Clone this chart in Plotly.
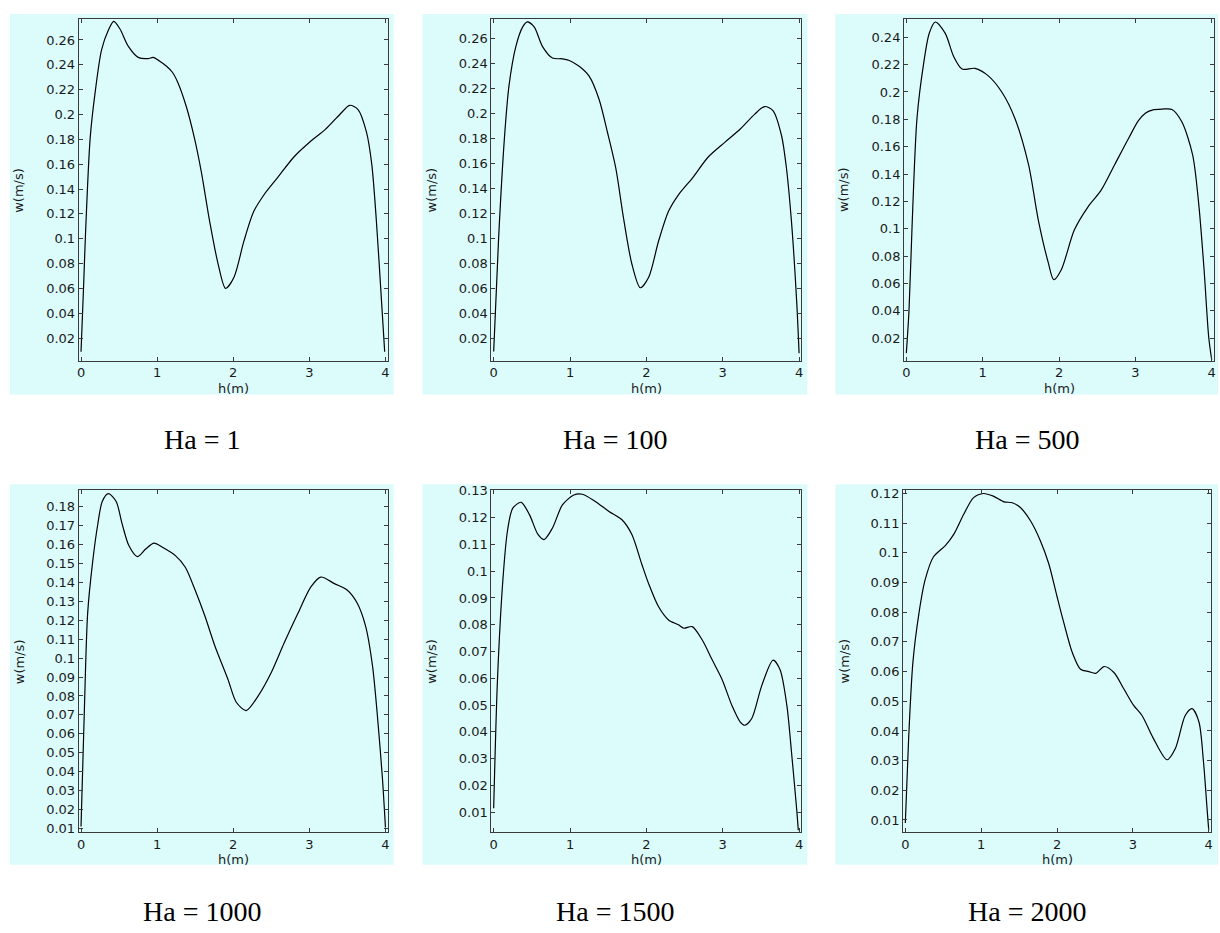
import plotly.graph_objects as go

W, H = 1220, 933

# ---------------- data ----------------
ha_labels = ["Ha = 1", "Ha = 100", "Ha = 500", "Ha = 1000", "Ha = 1500", "Ha = 2000"]
x_title = "h(m)"
y_title = "w(m/s)"
x_ticks = [0, 1, 2, 3, 4]
x_tick_text = ["0", "1", "2", "3", "4"]

h_ha1 = [0, 0.035, 0.057, 0.12, 0.19, 0.27, 0.36, 0.43, 0.51, 0.62, 0.75, 0.88, 0.95, 1.03,
         1.12, 1.2, 1.27, 1.38, 1.49, 1.58, 1.69, 1.80, 1.90, 2.01, 2.14, 2.27, 2.40, 2.58,
         2.80, 3.01, 3.21, 3.40, 3.53, 3.64, 3.75, 3.82, 3.88, 3.95, 3.99]
w_ha1 = [0.009, 0.064, 0.101, 0.181, 0.22, 0.252, 0.268, 0.275, 0.269, 0.255, 0.246, 0.245,
         0.246, 0.243, 0.239, 0.234, 0.226, 0.207, 0.181, 0.154, 0.114, 0.08, 0.06, 0.069,
         0.098, 0.122, 0.135, 0.149, 0.166, 0.178, 0.188, 0.2, 0.2074, 0.204, 0.186, 0.16,
         0.115, 0.048, 0.009]

h_ha100 = [0, 0.065, 0.14, 0.2, 0.29, 0.38, 0.44, 0.53, 0.64, 0.77, 0.9, 0.99, 1.12, 1.25,
           1.38, 1.49, 1.6, 1.7, 1.81, 1.92, 2.03, 2.16, 2.29, 2.42, 2.6, 2.81, 3.03, 3.23,
           3.42, 3.55, 3.66, 3.77, 3.83, 3.9, 3.97, 4.0]
w_ha100 = [0.0093, 0.1004, 0.1795, 0.2217, 0.2534, 0.2692, 0.2732, 0.2692, 0.2534, 0.2442,
           0.2436, 0.2423, 0.2376, 0.2297, 0.2112, 0.1848, 0.1558, 0.1162, 0.0793, 0.0603,
           0.0687, 0.0977, 0.1215, 0.1347, 0.1479, 0.165, 0.1769, 0.1874, 0.1993, 0.2054,
           0.202, 0.1822, 0.1584, 0.1136, 0.0476, 0.0078]

h_ha500 = [0, 0.035, 0.078, 0.14, 0.23, 0.30, 0.38, 0.51, 0.62, 0.73, 0.9, 1.07, 1.25, 1.42,
           1.6, 1.73, 1.86, 1.93, 2.03, 2.2, 2.38, 2.55, 2.73, 2.91, 3.04, 3.13, 3.22, 3.35,
           3.48, 3.61, 3.75, 3.83, 3.9, 3.96, 4.0]
w_ha500 = [0.009, 0.04, 0.106, 0.181, 0.222, 0.243, 0.2512, 0.2429, 0.226, 0.2168, 0.2173,
           0.212, 0.2, 0.181, 0.147, 0.106, 0.075, 0.0627, 0.07, 0.099, 0.116, 0.128, 0.147,
           0.166, 0.179, 0.1845, 0.1868, 0.1875, 0.1872, 0.178, 0.154, 0.118, 0.07, 0.021,
           0.004]

h_ha1000 = [0, 0.043, 0.087, 0.15, 0.22, 0.28, 0.36, 0.46, 0.54, 0.63, 0.74, 0.85, 0.96,
            1.07, 1.24, 1.37, 1.5, 1.63, 1.76, 1.93, 2.04, 2.17, 2.33, 2.5, 2.67, 2.85, 3.02,
            3.15, 3.33, 3.5, 3.63, 3.74, 3.83, 3.89, 3.96, 4.0]
w_ha1000 = [0.011, 0.0715, 0.1237, 0.15, 0.1708, 0.183, 0.187, 0.183, 0.171, 0.1594, 0.1537,
            0.1577, 0.1608, 0.1586, 0.1542, 0.1481, 0.1359, 0.122, 0.1063, 0.0889, 0.0767,
            0.0723, 0.0802, 0.0924, 0.1081, 0.1237, 0.1377, 0.1429, 0.1394, 0.1359, 0.129,
            0.1168, 0.0959, 0.0715, 0.0366, 0.0105]

h_ha1500 = [0, 0.05, 0.12, 0.18, 0.25, 0.36, 0.47, 0.58, 0.66, 0.77, 0.9, 1.05, 1.16, 1.33,
            1.51, 1.68, 1.81, 1.94, 2.03, 2.16, 2.29, 2.42, 2.49, 2.6, 2.73, 2.86, 2.99, 3.12,
            3.23, 3.29, 3.38, 3.51, 3.66, 3.75, 3.84, 3.9, 3.97, 3.99]
w_ha1500 = [0.0115, 0.0597, 0.0965, 0.1149, 0.1235, 0.1257, 0.121, 0.1137, 0.1118, 0.1161,
            0.1247, 0.1284, 0.1287, 0.126, 0.1223, 0.1192, 0.1137, 0.1026, 0.0953, 0.0867,
            0.0818, 0.08, 0.0787, 0.0793, 0.0744, 0.067, 0.0597, 0.0499, 0.0437, 0.0425,
            0.045, 0.0572, 0.0668, 0.0633, 0.0499, 0.0327, 0.0107, 0.0033]

h_ha2000 = [0, 0.044, 0.1, 0.18, 0.26, 0.37, 0.53, 0.64, 0.77, 0.9, 1.03, 1.16, 1.3, 1.41,
            1.52, 1.65, 1.78, 1.89, 2.0, 2.09, 2.2, 2.31, 2.42, 2.51, 2.62, 2.75, 2.88, 3.01,
            3.12, 3.27, 3.45, 3.56, 3.69, 3.78, 3.87, 3.93, 3.98, 4.0]
w_ha2000 = [0.009, 0.0375, 0.0631, 0.0797, 0.0908, 0.0986, 0.1025, 0.1063, 0.113, 0.1186,
            0.12, 0.1191, 0.1172, 0.1169, 0.1152, 0.1108, 0.1041, 0.0964, 0.0853, 0.0764,
            0.0665, 0.0608, 0.06, 0.0594, 0.0617, 0.0597, 0.0542, 0.0486, 0.0452, 0.0375,
            0.0303, 0.0341, 0.0452, 0.0475, 0.0431, 0.0298, 0.0131, 0.0065]

y_ticks_top12 = [0.02, 0.04, 0.06, 0.08, 0.1, 0.12, 0.14, 0.16, 0.18, 0.2, 0.22, 0.24, 0.26]
y_text_top12 = ["0.02", "0.04", "0.06", "0.08", "0.1", "0.12", "0.14", "0.16", "0.18", "0.2",
                "0.22", "0.24", "0.26"]
y_ticks_top3 = y_ticks_top12[:-1]
y_text_top3 = y_text_top12[:-1]
y_ticks_b1 = [0.01, 0.02, 0.03, 0.04, 0.05, 0.06, 0.07, 0.08, 0.09, 0.1, 0.11, 0.12, 0.13,
              0.14, 0.15, 0.16, 0.17, 0.18]
y_text_b1 = ["0.01", "0.02", "0.03", "0.04", "0.05", "0.06", "0.07", "0.08", "0.09", "0.1",
             "0.11", "0.12", "0.13", "0.14", "0.15", "0.16", "0.17", "0.18"]
y_ticks_b2 = y_ticks_b1[:13]
y_text_b2 = y_text_b1[:13]
y_ticks_b3 = y_ticks_b1[:12]
y_text_b3 = y_text_b1[:12]

# ---------------- layout helpers ----------------
panels = [
    (h_ha1, w_ha1, [0.0017, 0.277], y_ticks_top12, y_text_top12),
    (h_ha100, w_ha100, [0.0018, 0.2756], y_ticks_top12, y_text_top12),
    (h_ha500, w_ha500, [0.0034, 0.2535], y_ticks_top3, y_text_top3),
    (h_ha1000, w_ha1000, [0.008, 0.1888], y_ticks_b1, y_text_b1),
    (h_ha1500, w_ha1500, [0.0026, 0.1302], y_ticks_b2, y_text_b2),
    (h_ha2000, w_ha2000, [0.0059, 0.1211], y_ticks_b3, y_text_b3),
]
box_x = [(77, 387), (491, 802), (905, 1216), (77, 387), (491, 802), (904, 1213)]
box_y = [(12, 358)] * 3 + [(489, 835)] * 3
cyan_x = [(8, 393), (422, 808), (836, 1220)]
cyan_y = [(7, 392), (483, 868)]
label_y = [438, 915]
x_range = [-0.03, 4.03]

CYAN = "#dcfcfc"
AX = "#3a3a3a"
TXT = "#1a1a1a"
tickfont = dict(family="DejaVu Sans", size=13, color=TXT)


def px(x):
    return x / W


def py(y):
    return 1 - y / H


fig = go.Figure()
layout = dict(width=W, height=H, margin=dict(l=0, r=0, t=0, b=0),
              paper_bgcolor="white", plot_bgcolor=CYAN, showlegend=False)
shapes = []
annotations = []

for r in range(2):
    for c in range(3):
        shapes.append(dict(type="rect", xref="paper", yref="paper", layer="below",
                           x0=px(cyan_x[c][0]), x1=px(cyan_x[c][1]),
                           y0=py(cyan_y[r][1]), y1=py(cyan_y[r][0]),
                           fillcolor=CYAN, line=dict(width=0)))
        annotations.append(dict(text=ha_labels[r * 3 + c], xref="paper", yref="paper",
                                x=px((cyan_x[c][0] + cyan_x[c][1]) / 2), y=py(label_y[r]),
                                xanchor="center", yanchor="middle", showarrow=False,
                                font=dict(family="Liberation Serif", size=28, color="black")))

for i, (hh, ww, yr, yt, ytt) in enumerate(panels):
    n = "" if i == 0 else str(i + 1)
    fig.add_trace(go.Scatter(x=hh, y=ww, mode="lines", xaxis="x" + n, yaxis="y" + n,
                             line=dict(color="black", width=1.2, shape="spline", smoothing=0.8),
                             hoverinfo="skip"))
    bx, by = box_x[i], box_y[i]
    layout["xaxis" + n] = dict(domain=[px(bx[0]), px(bx[1])], anchor="y" + n, range=x_range,
                               tickvals=x_ticks, ticktext=x_tick_text, ticks="inside",
                               ticklen=4, tickcolor=AX, mirror="allticks", showline=True,
                               linecolor=AX, linewidth=1, showgrid=False, zeroline=False,
                               tickfont=tickfont)
    layout["yaxis" + n] = dict(domain=[py(by[1]), py(by[0])], anchor="x" + n, range=yr,
                               tickvals=yt, ticktext=ytt, ticks="inside", ticklen=4,
                               tickcolor=AX, mirror="allticks", showline=True, linecolor=AX,
                               linewidth=1, showgrid=False, zeroline=False, tickfont=tickfont)
    annotations.append(dict(text=x_title, xref="x" + n, yref="paper", x=2,
                            y=py(by[1] + 28), xanchor="center", yanchor="middle",
                            showarrow=False, font=tickfont))
    annotations.append(dict(text=y_title, xref="paper", yref="paper",
                            x=px(cyan_x[i % 3][0] + 9), y=py((by[0] + by[1]) / 2),
                            xanchor="center", yanchor="middle", textangle=-90,
                            showarrow=False, font=tickfont))

layout["shapes"] = shapes
layout["annotations"] = annotations
fig.update_layout(**layout)
fig.write_html("out.html")
